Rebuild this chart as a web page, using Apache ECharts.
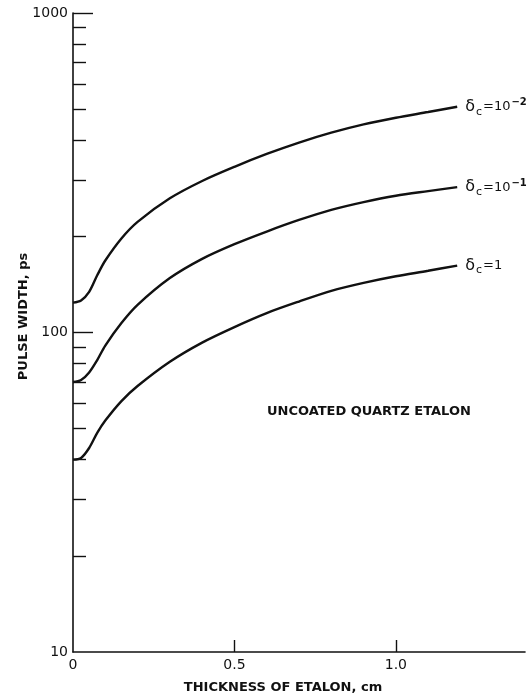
<!DOCTYPE html>
<html>
<head>
<meta charset="utf-8">
<script src="https://cdn.jsdelivr.net/npm/echarts@6/dist/echarts.min.js"></script>
<style>
html,body{margin:0;padding:0;background:#fff;}
#c{width:532px;height:699px;}
</style>
</head>
<body>
<div id="c"></div>
<script>
// Data
var thickness = [0, 0.025, 0.05, 0.075, 0.1, 0.15, 0.2, 0.3, 0.4, 0.5, 0.6, 0.7, 0.8, 0.9, 1.0, 1.1, 1.19];
var widthDc001 = [124, 126, 134, 151, 168, 197, 222, 263, 298, 330, 362, 393, 422, 448, 470, 490, 509];
var widthDc01  = [70, 71, 75, 82, 91, 107, 122, 148, 170, 189, 207, 225, 242, 256, 268, 277, 285];
var widthDc1   = [40, 40.5, 43.5, 48.5, 53, 61, 68, 81, 93, 104, 115, 125, 135, 143, 150, 156, 162];
var seriesNames = ['δc=10^-2', 'δc=10^-1', 'δc=1'];
var endLabels = [
  '{d|δ}{s|c}{e|=10}{p|−2}',
  '{d|δ}{s|c}{e|=10}{p|−1}',
  '{d|δ}{s|c}{e|=1}'
];
var xLabelValues = [0, 0.5, 1.0];
var xTickValues = [0.5, 1.0];
var yLabelValues = [10, 100, 1000];
var yMajorTicks = [100, 1000];
var yMinorTicks = [20, 30, 40, 50, 60, 70, 80, 90, 200, 300, 400, 500, 600, 700, 800, 900];

var ink = '#111';
var font = 'DejaVu Sans, Liberation Sans, sans-serif';

function pairs(ys) { return thickness.map(function (x, i) { return [x, ys[i]]; }); }

var rich = {
  d: {fontSize: 16, color: ink, fontFamily: font},
  s: {fontSize: 11, color: ink, fontFamily: font, padding: [10, 1, 0, 1]},
  e: {fontSize: 13, color: ink, fontFamily: font},
  p: {fontSize: 10, color: ink, fontFamily: font, fontWeight: 'bold', padding: [0, 0, 8, 1]}
};

function lineSeries(name, ys, lbl) {
  return {
    name: name, type: 'line', data: pairs(ys), smooth: 0.3,
    showSymbol: false, symbol: 'none',
    lineStyle: {color: ink, width: 2.4},
    endLabel: {show: true, formatter: lbl, distance: 8, rich: rich, color: ink},
    silent: true
  };
}

var chart = echarts.init(document.getElementById('c'), null, {renderer: 'canvas'});
chart.setOption({
  backgroundColor: '#fff',
  animation: false,
  grid: {left: 73, right: 7, top: 13, bottom: 47, containLabel: false},
  xAxis: {
    type: 'value', min: 0, max: 1.4,
    name: 'THICKNESS OF ETALON, cm', nameLocation: 'middle', nameGap: 29,
    nameTextStyle: {fontSize: 13, color: ink, fontFamily: font, fontWeight: 'bold', padding: [0, 32, 0, 0]},
    axisLine: {show: true, lineStyle: {color: ink, width: 1.6}},
    axisTick: {show: true, inside: true, length: 12, customValues: xTickValues, lineStyle: {color: ink, width: 1.4}},
    axisLabel: {customValues: xLabelValues, color: ink, fontSize: 14, fontFamily: font, margin: 6,
      formatter: function (v) { return v === 0 ? '0' : v.toFixed(1); }},
    splitLine: {show: false}
  },
  yAxis: [{
    type: 'log', min: 10, max: 1000, logBase: 10,
    name: 'PULSE WIDTH, ps', nameLocation: 'middle', nameGap: 43, nameRotate: 90,
    nameMoveOverlap: false,
    nameTextStyle: {fontSize: 13, color: ink, fontFamily: font, fontWeight: 'bold', padding: [0, 0, 0, 32]},
    axisLine: {show: true, lineStyle: {color: ink, width: 1.6}},
    axisTick: {show: true, inside: true, length: 13, customValues: yMinorTicks, lineStyle: {color: ink, width: 1.4}},
    axisLabel: {customValues: yLabelValues, color: ink, fontSize: 14, fontFamily: font, margin: 5,
      formatter: function (v) { return String(Math.round(v)); }},
    splitLine: {show: false},
    minorTick: {show: false}
  }, {
    type: 'log', min: 10, max: 1000, logBase: 10, position: 'left',
    axisLine: {show: false},
    axisTick: {show: true, inside: true, length: 20, customValues: yMajorTicks, lineStyle: {color: ink, width: 1.4}},
    axisLabel: {show: false},
    splitLine: {show: false}
  }],
  title: {
    text: 'UNCOATED QUARTZ ETALON', left: 262, top: 400,
    textStyle: {fontSize: 13, color: ink, fontFamily: font, fontWeight: 'bold'}
  },
  series: [
    lineSeries(seriesNames[0], widthDc001, endLabels[0]),
    lineSeries(seriesNames[1], widthDc01, endLabels[1]),
    lineSeries(seriesNames[2], widthDc1, endLabels[2])
  ]
});
</script>
</body>
</html>
